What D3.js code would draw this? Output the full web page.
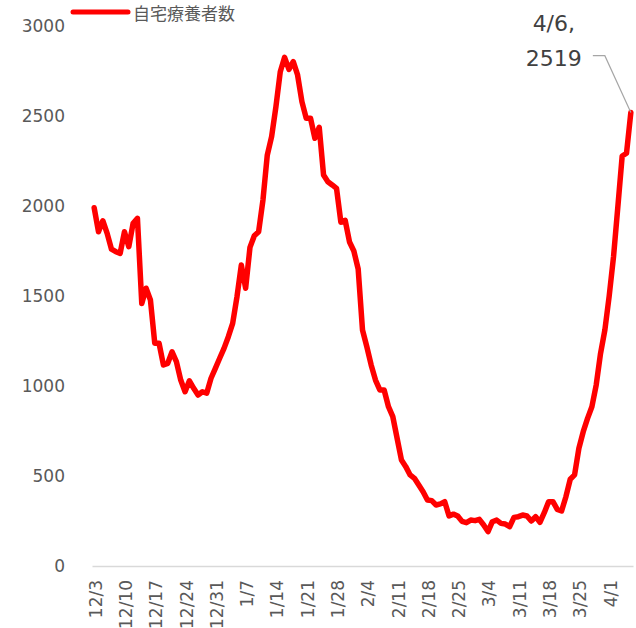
<!DOCTYPE html>
<html>
<head>
<meta charset="utf-8">
<script src="https://cdn.jsdelivr.net/npm/d3@7"></script>
<style>
  html, body { margin: 0; padding: 0; background: #fff; }
</style>
</head>
<body>
<script>
// 自宅療養者数, daily from 12/3 to 4/6
const startDate = new Date(2021, 11, 3);
const seriesName = '自宅療養者数';
const values = [
  1990, 1857, 1918, 1848, 1760, 1746, 1737, 1857, 1774, 1904,
  1931, 1459, 1543, 1478, 1237, 1237, 1117, 1126, 1190, 1135,
  1033, 968, 1029, 987, 950, 968, 960, 1043, 1098, 1154,
  1209, 1274, 1348, 1496, 1672, 1543, 1770, 1835, 1857, 2033,
  2283, 2385, 2552, 2746, 2826, 2759, 2802, 2728, 2580, 2487,
  2487, 2376, 2437, 2172, 2135, 2117, 2098, 1910, 1920, 1800,
  1750, 1650, 1311, 1218, 1117, 1033, 978, 978, 885, 830,
  709, 589, 552, 506, 487, 450, 413, 367, 363, 339,
  345, 357, 278, 288, 278, 248, 241, 255, 252, 259,
  228, 191, 246, 255, 237, 233, 219, 270, 274, 283,
  278, 250, 274, 243, 296, 357, 357, 315, 306, 385,
  482, 506, 654, 746, 820, 885, 1006, 1181, 1311, 1500,
  1718, 1996, 2278, 2293, 2519
];
const yTicks = [0, 500, 1000, 1500, 2000, 2500, 3000];
const labelEvery = 7;
const lastLabel = ['4/6,', '2519'];

const width = 636, height = 628;
const margin = { top: 26, right: 3, bottom: 62, left: 92 };

const data = values.map((v, i) => ({ date: d3.timeDay.offset(startDate, i), value: v }));
const fmt = d => `${d.getMonth() + 1}/${d.getDate()}`;

const svg = d3.select('body').append('svg')
  .attr('width', width)
  .attr('height', height)
  .style('font-family', '"DejaVu Sans", Verdana, sans-serif');

const x = d3.scaleLinear()
  .domain([-0.5, data.length - 0.5])
  .range([margin.left, width - margin.right]);

const y = d3.scaleLinear()
  .domain([0, 3000])
  .range([height - margin.bottom, margin.top]);

// y axis labels
svg.append('g')
  .attr('transform', `translate(${margin.left - 27},0)`)
  .call(d3.axisLeft(y).tickValues(yTicks).tickFormat(d3.format('d')).tickSize(0).tickPadding(0))
  .call(g => g.select('.domain').remove())
  .call(g => g.selectAll('text')
    .attr('fill', '#595959')
    .style('font-size', '17px')
    .style('font-family', '"DejaVu Sans", Verdana, sans-serif'));

// x axis
const tickIdx = d3.range(0, data.length, labelEvery);
svg.append('g')
  .attr('transform', `translate(0,${height - margin.bottom})`)
  .call(d3.axisBottom(x).tickValues(tickIdx).tickSize(0).tickFormat(i => fmt(data[i].date)))
  .call(g => g.select('.domain').attr('stroke', '#d9d9d9').attr('stroke-width', 1.5))
  .call(g => g.selectAll('text')
    .attr('fill', '#595959')
    .style('font-size', '17px')
    .style('font-family', '"DejaVu Sans", Verdana, sans-serif')
    .attr('text-anchor', 'end')
    .attr('dy', '0.35em')
    .attr('transform', 'translate(1,14) rotate(-90)')
    .attr('x', 0).attr('y', 0));

// line
const line = d3.line()
  .x((d, i) => x(i))
  .y(d => y(d.value));

svg.append('path')
  .datum(data)
  .attr('fill', 'none')
  .attr('stroke', '#ff0000')
  .attr('stroke-width', 5.5)
  .attr('stroke-linejoin', 'round')
  .attr('stroke-linecap', 'round')
  .attr('d', line);

// last point annotation
const last = data.length - 1;
const lx = x(last), ly = y(values[last]);
svg.append('path')
  .attr('fill', 'none')
  .attr('stroke', '#a6a6a6')
  .attr('stroke-width', 1.2)
  .attr('d', `M${lx - 38},${y(2835)}H${lx - 26}L${lx},${ly}`);

svg.append('g')
  .selectAll('text')
  .data(lastLabel)
  .join('text')
  .attr('x', lx - 77)
  .attr('y', (d, i) => 31 + i * 35)
  .attr('text-anchor', 'middle')
  .attr('fill', '#404040')
  .style('font-size', '22px')
  .text(d => d);

// legend
const legend = svg.append('g').attr('transform', 'translate(73,12)');
legend.append('line')
  .attr('x1', 0).attr('x2', 55)
  .attr('stroke', '#ff0000')
  .attr('stroke-width', 5)
  .attr('stroke-linecap', 'round');
legend.append('text')
  .attr('x', 60)
  .attr('y', 8)
  .attr('fill', '#595959')
  .style('font-size', '17px')
  .style('font-family', '"Noto Sans CJK JP", sans-serif')
  .text(seriesName);
</script>
</body>
</html>
